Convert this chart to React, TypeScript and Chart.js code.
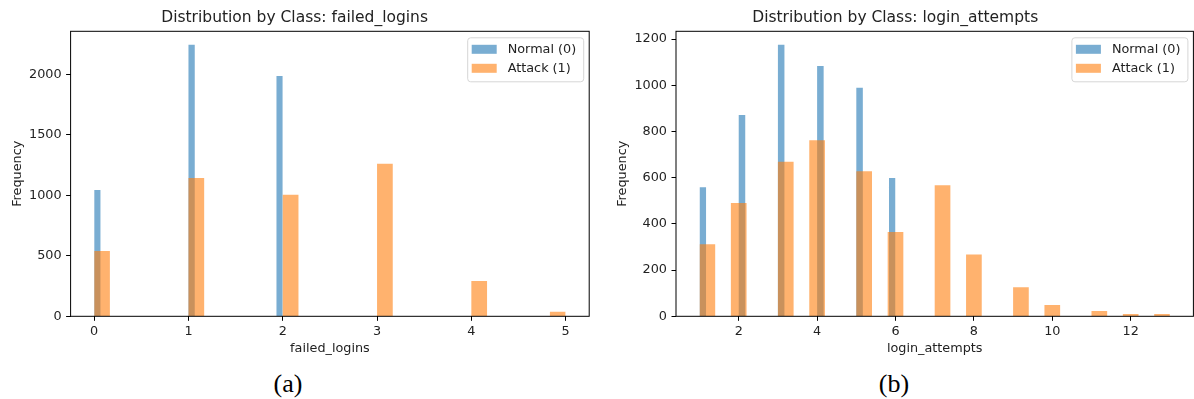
import React, { useEffect, useRef } from "react";
import { Chart, registerables } from "chart.js";

Chart.register(...registerables);

// ---------- data ----------
const failedValues = [0, 1, 2, 3, 4, 5];
const failedNormal = [1043, 2243, 1986, 0, 0, 0];
const failedAttack = [540, 1142, 1004, 1260, 291, 38];
const failedXTicks = [0, 1, 2, 3, 4, 5];
const failedYTicks = [0, 500, 1000, 1500, 2000];

const attemptValues = [1, 2, 3, 4, 5, 6, 7, 8, 9, 10, 11, 12, 13];
const attemptNormal = [559, 871, 1175, 1083, 989, 599, 0, 0, 0, 0, 0, 0, 0];
const attemptAttack = [312, 491, 669, 762, 628, 365, 567, 267, 126, 49, 23, 10, 10];
const attemptXTicks = [2, 4, 6, 8, 10, 12];
const attemptYTicks = [0, 200, 400, 600, 800, 1000, 1200];

const seriesLabels = ["Normal (0)", "Attack (1)"];
const BINS = 30;

const BLUE = "rgba(31,119,180,0.6)";
const ORANGE = "rgba(255,127,14,0.6)";
const FONT = "'DejaVu Sans', sans-serif";

function histPolygon(values: number[], counts: number[], bins: number) {
  const present = values.filter((_, i) => counts[i] > 0);
  const lo = Math.min(...present);
  const hi = Math.max(...present);
  const w = (hi - lo) / bins;
  const pts: { x: number; y: number }[] = [];
  values.forEach((v, i) => {
    if (counts[i] <= 0) return;
    const idx = Math.min(Math.floor((v - lo) / w + 1e-9), bins - 1);
    const l = lo + idx * w;
    const r = l + w;
    pts.push({ x: l, y: 0 }, { x: l, y: counts[i] }, { x: r, y: counts[i] }, { x: r, y: 0 });
  });
  return { pts, lo, hi };
}

const framePlugin = {
  id: "frame",
  afterDatasetsDraw(chart: any) {
    const { ctx, chartArea } = chart;
    ctx.save();
    ctx.strokeStyle = "#000";
    ctx.lineWidth = 1;
    ctx.strokeRect(chartArea.left, chartArea.top, chartArea.right - chartArea.left, chartArea.bottom - chartArea.top);
    ctx.restore();
  },
};

const legendPlugin = {
  id: "mplLegend",
  afterDraw(chart: any) {
    const { ctx, chartArea } = chart;
    const w = 116;
    const h = 44;
    const x = chartArea.right - 6 - w;
    const y = chartArea.top + 6;
    ctx.save();
    ctx.beginPath();
    ctx.roundRect(x + 0.5, y + 0.5, w, h, 3);
    ctx.fillStyle = "rgba(255,255,255,0.8)";
    ctx.fill();
    ctx.strokeStyle = "#d6d6d6";
    ctx.lineWidth = 1;
    ctx.stroke();
    const colors = [BLUE, ORANGE];
    ctx.font = `12.8px ${FONT}`;
    ctx.textBaseline = "middle";
    ctx.textAlign = "left";
    seriesLabels.forEach((lab, i) => {
      const cy = y + 12 + i * 19;
      ctx.fillStyle = colors[i];
      ctx.fillRect(x + 4.5, cy - 4.5, 25, 9);
      ctx.fillStyle = "#222";
      ctx.fillText(lab, x + 40.5, cy + 0.5);
    });
    ctx.restore();
  },
};

interface HistProps {
  values: number[];
  normal: number[];
  attack: number[];
  xTicks: number[];
  yTicks: number[];
  title: string;
  xLabel: string;
  chartLeft: number;
  padRight: number;
  yTitlePad: number;
}

function HistChart(p: HistProps) {
  const ref = useRef<HTMLCanvasElement | null>(null);
  useEffect(() => {
    if (!ref.current) return;
    const n = histPolygon(p.values, p.normal, BINS);
    const a = histPolygon(p.values, p.attack, BINS);
    const lo = Math.min(n.lo, a.lo);
    const hi = Math.max(n.hi, a.hi);
    const span = hi - lo;
    const ymax = Math.max(...p.normal, ...p.attack) * 1.05;
    const tickFont = { family: FONT, size: 12.8, lineHeight: 1.2 };
    const chart = new Chart(ref.current, {
      type: "line",
      data: {
        datasets: [
          {
            label: seriesLabels[0],
            data: n.pts,
            backgroundColor: BLUE,
            borderWidth: 0,
            borderColor: "rgba(0,0,0,0)",
            pointRadius: 0,
            fill: "origin",
            tension: 0,
            order: 1,
          },
          {
            label: seriesLabels[1],
            data: a.pts,
            backgroundColor: ORANGE,
            borderWidth: 0,
            borderColor: "rgba(0,0,0,0)",
            pointRadius: 0,
            fill: "origin",
            tension: 0,
            order: 0,
          },
        ],
      },
      options: {
        responsive: false,
        animation: false,
        events: [],
        layout: { padding: { left: 0, right: p.padRight, top: 0, bottom: 0 } },
        plugins: {
          legend: { display: false },
          tooltip: { enabled: false },
          title: {
            display: true,
            text: p.title,
            color: "#222",
            font: { family: FONT, size: 15.5, weight: "normal", lineHeight: 1.2 },
            padding: { top: 8.7, bottom: 4 },
          },
        },
        scales: {
          x: {
            type: "linear",
            min: lo - 0.05 * span,
            max: hi + 0.05 * span,
            afterBuildTicks: (s: any) => {
              s.ticks = p.xTicks.map((v) => ({ value: v }));
            },
            afterFit: (s: any) => {
              s.height = 365 - 316.3;
            },
            grid: { drawOnChartArea: false, drawTicks: true, tickLength: 4.5, color: "#000", tickWidth: 1 },
            border: { display: false },
            ticks: {
              color: "#222",
              font: tickFont,
              padding: 3,
              maxRotation: 0,
              autoSkip: false,
              callback: (v: any) => String(v),
            },
            title: {
              display: true,
              text: p.xLabel,
              color: "#222",
              font: tickFont,
              padding: { top: 0, bottom: 8.5 },
            },
          },
          y: {
            type: "linear",
            min: 0,
            max: ymax,
            afterBuildTicks: (s: any) => {
              s.ticks = p.yTicks.map((v) => ({ value: v }));
            },
            afterFit: (s: any) => {
              s.width = p.chartLeft;
            },
            grid: { drawOnChartArea: false, drawTicks: true, tickLength: 4.5, color: "#000", tickWidth: 1 },
            border: { display: false },
            ticks: {
              color: "#222",
              font: tickFont,
              padding: 4.5,
              autoSkip: false,
              callback: (v: any) => String(v),
            },
            title: {
              display: true,
              text: "Frequency",
              color: "#222",
              font: tickFont,
              padding: { top: p.yTitlePad, bottom: 0 },
            },
          },
        },
      },
      plugins: [framePlugin, legendPlugin],
    } as any);
    return () => chart.destroy();
  }, []);
  return <canvas ref={ref} width={597} height={365} style={{ display: "block" }} />;
}

const captionStyle: React.CSSProperties = {
  position: "absolute",
  top: 369,
  width: 60,
  textAlign: "center",
  fontFamily: "'Liberation Serif', 'Times New Roman', serif",
  fontSize: 26,
  lineHeight: "30px",
  color: "#000",
};

export default function App() {
  return (
    <div style={{ position: "absolute", left: 0, top: 0, width: 1194, height: 399, background: "#fff", overflow: "hidden" }}>
      <div style={{ position: "absolute", left: 0, top: 0 }}>
        <HistChart
          values={failedValues}
          normal={failedNormal}
          attack={failedAttack}
          xTicks={failedXTicks}
          yTicks={failedYTicks}
          title="Distribution by Class: failed_logins"
          xLabel="failed_logins"
          chartLeft={70.6}
          padRight={7.8}
          yTitlePad={9.5}
        />
      </div>
      <div style={{ position: "absolute", left: 597, top: 0 }}>
        <HistChart
          values={attemptValues}
          normal={attemptNormal}
          attack={attemptAttack}
          xTicks={attemptXTicks}
          yTicks={attemptYTicks}
          title="Distribution by Class: login_attempts"
          xLabel="login_attempts"
          chartLeft={79}
          padRight={0.6}
          yTitlePad={17.5}
        />
      </div>
      <div style={{ ...captionStyle, left: 288 - 30 }}>(a)</div>
      <div style={{ ...captionStyle, left: 894 - 30 }}>(b)</div>
    </div>
  );
}
